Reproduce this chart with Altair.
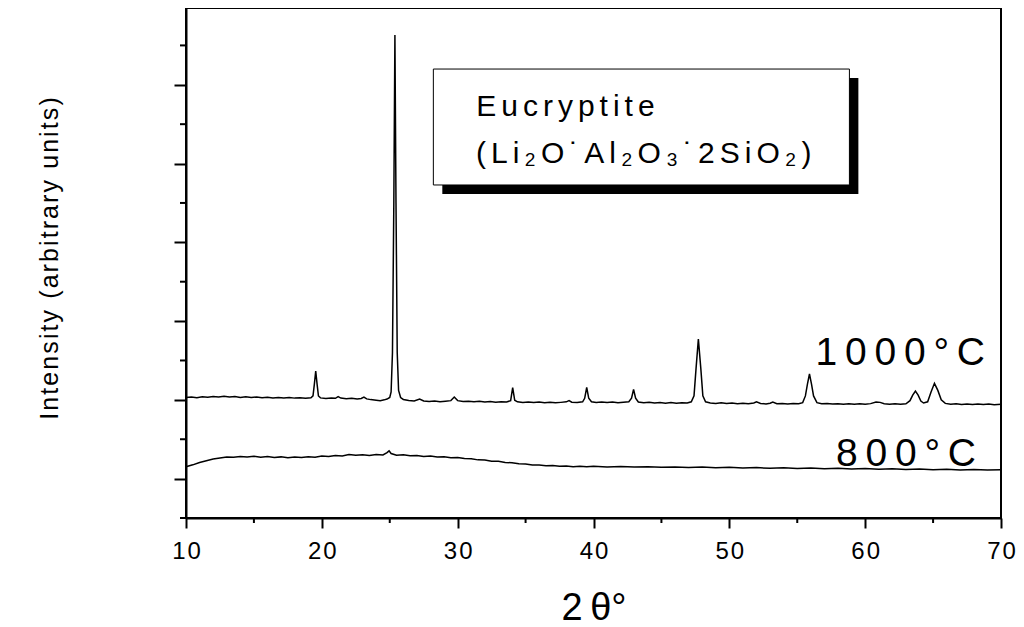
import altair as alt
import pandas as pd

# ---------------- data ----------------
x1000 = [10.0, 10.4, 10.8, 11.2, 11.6, 12.0, 12.4, 12.8, 13.2, 13.6, 14.0, 14.4, 14.8, 15.2, 15.6,
         16.0, 16.4, 16.8, 17.2, 17.6, 18.0, 18.4, 18.8, 19.2, 19.35, 19.45, 19.55, 19.65, 19.75,
         19.9, 20.3, 20.7, 21.0, 21.2, 21.4, 21.8, 22.2, 22.6, 22.9, 23.1, 23.3, 23.6, 24.0, 24.3,
         24.6, 24.8, 25.0, 25.1, 25.2, 25.3, 25.38, 25.46, 25.55, 25.65, 25.8, 26.0, 26.4, 26.8,
         27.2, 27.5, 27.9, 28.3, 28.7, 29.1, 29.5, 29.75, 30.0, 30.4, 30.8, 31.2, 31.6, 32.0, 32.4,
         32.8, 33.2, 33.6, 33.9, 34.05, 34.2, 34.4, 34.8, 35.2, 35.6, 36.0, 36.4, 36.8, 37.2, 37.6,
         38.0, 38.2, 38.4, 38.8, 39.2, 39.35, 39.5, 39.65, 39.85, 40.2, 40.6, 41.0, 41.4, 41.8,
         42.2, 42.6, 42.8, 42.95, 43.1, 43.3, 43.7, 44.1, 44.5, 44.9, 45.3, 45.7, 46.1, 46.5, 46.9,
         47.2, 47.4, 47.55, 47.72, 47.9, 48.05, 48.25, 48.6, 49.0, 49.4, 49.8, 50.2, 50.6, 51.0,
         51.4, 51.8, 52.0, 52.3, 52.7, 53.0, 53.2, 53.5, 53.9, 54.3, 54.7, 55.1, 55.4, 55.6, 55.75,
         55.9, 56.05, 56.2, 56.45, 56.8, 57.2, 57.6, 58.0, 58.4, 58.8, 59.2, 59.6, 60.0, 60.4, 60.8,
         61.1, 61.4, 61.8, 62.2, 62.6, 63.0, 63.3, 63.5, 63.7, 63.9, 64.1, 64.3, 64.6, 64.85, 65.1,
         65.35, 65.6, 65.9, 66.3, 66.7, 67.1, 67.5, 67.9, 68.3, 68.7, 69.1, 69.5, 70.0]
y1000 = [1.030, 1.036, 1.028, 1.040, 1.033, 1.042, 1.035, 1.045, 1.036, 1.041, 1.031, 1.038, 1.030,
         1.036, 1.027, 1.033, 1.025, 1.031, 1.024, 1.030, 1.022, 1.028, 1.021, 1.026, 1.050, 1.200,
         1.366, 1.200, 1.050, 1.025, 1.018, 1.024, 1.020, 1.042, 1.022, 1.015, 1.021, 1.012, 1.018,
         1.035, 1.012, 1.003, 0.995, 0.990, 1.000, 1.010, 1.030, 1.100, 1.600, 3.500, 5.632, 3.500,
         1.600, 1.120, 1.030, 1.005, 0.992, 0.985, 1.010, 0.985, 0.978, 0.985, 0.975, 0.982, 0.990,
         1.035, 0.990, 0.978, 0.983, 0.975, 0.981, 0.972, 0.978, 0.970, 0.976, 0.972, 0.990, 1.154,
         0.995, 0.975, 0.968, 0.974, 0.966, 0.972, 0.963, 0.970, 0.962, 0.968, 0.975, 0.990, 0.970,
         0.965, 0.975, 1.020, 1.157, 1.020, 0.975, 0.968, 0.974, 0.966, 0.972, 0.963, 0.970, 0.975,
         1.020, 1.134, 1.020, 0.972, 0.962, 0.968, 0.960, 0.966, 0.958, 0.965, 0.957, 0.963, 0.960,
         0.975, 1.050, 1.400, 1.773, 1.400, 1.050, 0.975, 0.960, 0.955, 0.962, 0.954, 0.960, 0.952,
         0.958, 0.950, 0.960, 0.975, 0.955, 0.948, 0.958, 0.972, 0.950, 0.955, 0.948, 0.954, 0.950,
         0.965, 1.050, 1.200, 1.328, 1.200, 1.050, 0.965, 0.950, 0.955, 0.946, 0.952, 0.945, 0.951,
         0.944, 0.950, 0.945, 0.952, 0.972, 0.968, 0.950, 0.943, 0.949, 0.944, 0.950, 0.990, 1.060,
         1.112, 1.060, 0.985, 0.960, 0.975, 1.100, 1.210, 1.120, 1.000, 0.955, 0.944, 0.950, 0.942,
         0.948, 0.941, 0.947, 0.940, 0.946, 0.939, 0.944]

x800 = [10.0, 10.5, 11.0, 11.5, 12.0, 12.5, 13.0, 13.5, 14.0, 14.5, 15.0, 15.5, 16.0, 16.5, 17.0,
        17.5, 18.0, 18.5, 19.0, 19.5, 20.0, 20.5, 21.0, 21.5, 22.0, 22.5, 23.0, 23.5, 24.0, 24.5,
        24.8, 24.95, 25.1, 25.5, 26.0, 26.5, 27.0, 27.5, 28.0, 28.5, 29.0, 29.5, 30.0, 30.5, 31.0,
        31.5, 32.0, 32.5, 33.0, 33.5, 34.0, 34.5, 35.0, 35.5, 36.0, 36.5, 37.0, 37.5, 38.0, 38.5,
        39.0, 39.5, 40.0, 41.0, 42.0, 43.0, 44.0, 45.0, 46.0, 47.0, 48.0, 49.0, 50.0, 51.0, 52.0,
        53.0, 54.0, 55.0, 56.0, 57.0, 58.0, 59.0, 60.0, 61.0, 62.0, 63.0, 64.0, 65.0, 66.0, 67.0,
        68.0, 69.0, 70.0]
y800 = [0.150, 0.175, 0.205, 0.228, 0.250, 0.262, 0.275, 0.270, 0.282, 0.276, 0.284, 0.272, 0.280,
        0.268, 0.276, 0.265, 0.274, 0.268, 0.279, 0.272, 0.286, 0.280, 0.294, 0.288, 0.305, 0.296,
        0.303, 0.295, 0.306, 0.300, 0.330, 0.352, 0.318, 0.296, 0.302, 0.290, 0.294, 0.282, 0.288,
        0.276, 0.279, 0.266, 0.268, 0.254, 0.252, 0.238, 0.236, 0.222, 0.220, 0.205, 0.202, 0.188,
        0.186, 0.172, 0.174, 0.162, 0.166, 0.156, 0.160, 0.152, 0.158, 0.150, 0.157, 0.149, 0.155,
        0.146, 0.152, 0.143, 0.149, 0.140, 0.146, 0.137, 0.143, 0.134, 0.140, 0.131, 0.137, 0.128,
        0.134, 0.125, 0.131, 0.122, 0.128, 0.119, 0.125, 0.116, 0.122, 0.113, 0.119, 0.110, 0.116,
        0.108, 0.113]

x_ticks = [10, 20, 30, 40, 50, 60, 70]
x_minor = [15, 25, 35, 45, 55, 65]
y_ticks = [0, 1, 2, 3, 4, 5]
y_minor = [-0.5, 0.5, 1.5, 2.5, 3.5, 4.5, 5.5]

series_labels = ["1000°C", "800°C"]
label_x = [68.82, 68.16]
label_y = [1.442, 0.160]

box_lines = ["Eucryptite", "(Li₂O˙Al₂O₃˙2SiO₂)"]
box_text_x = [31.37, 31.35]
box_text_y = [4.608, 4.007]
box_x = [28.21, 58.84]
box_y = [3.728, 5.20]
shadow_x = [28.87, 59.50]
shadow_y = [3.614, 5.086]

# ---------------- styling helpers ----------------
HS = "\u200a"   # hair space (letter spacing)
TS = "\u2009"   # thin space (letter spacing)
SS = "\u2006"   # six-per-em space (letter spacing)
FONT = "Liberation Sans"
W, H = 815, 510

def spaced(s, sep):
    return sep.join(list(s))

xs = alt.Scale(domain=[10, 70], nice=False, zero=False)
ys = alt.Scale(domain=[-0.5, 5.975], nice=False, zero=False)

df = pd.concat([
    pd.DataFrame({"x": x1000, "y": y1000, "s": "1000"}),
    pd.DataFrame({"x": x800, "y": y800, "s": "800"}),
])

x_axis = alt.Axis(values=x_ticks, tickSize=10, tickWidth=2, tickColor="black",
                  domainWidth=2, domainColor="black", grid=False,
                  labelFont=FONT, labelFontSize=24, labelColor="black",
                  labelBaseline="alphabetic", labelPadding=30, labelFlush=False,
                  labelOverlap=False,
                  labelExpr="join(split(datum.label, ''), '" + HS + "')",
                  title="2" + TS + "θ°", titleFont=FONT, titleFontSize=38,
                  titleFontWeight="normal", titleColor="black",
                  titleBaseline="alphabetic", titleY=101)
y_axis = alt.Axis(values=y_ticks, tickSize=12, tickWidth=2, tickColor="black",
                  domainWidth=2, domainColor="black", grid=False, labels=False,
                  title=spaced("Intensity (arbitrary units)", HS), titleFont=FONT,
                  titleFontSize=25, titleFontWeight="normal", titleColor="black",
                  titleAngle=270, titleAlign="center", titleBaseline="alphabetic",
                  titleX=-129, titleY=250)

def X(field):
    return alt.X(field, scale=xs, axis=x_axis)

def Y(field):
    return alt.Y(field, scale=ys, axis=y_axis)

lines = alt.Chart(df).mark_line(color="black", strokeWidth=1.5).encode(
    x=X("x:Q"), y=Y("y:Q"), detail="s:N",
)

xminor = alt.Chart(pd.DataFrame({"x": x_minor})).mark_rule(color="black", strokeWidth=2).encode(
    x=X("x:Q"), y=alt.value(H), y2=alt.value(H + 5),
)
yminor = alt.Chart(pd.DataFrame({"y": y_minor})).mark_rule(color="black", strokeWidth=2).encode(
    y=Y("y:Q"), x=alt.value(0), x2=alt.value(-6),
)

shadow = alt.Chart(pd.DataFrame({"x": [shadow_x[0]], "x1": [shadow_x[1]],
                                 "y": [shadow_y[0]], "y1": [shadow_y[1]]})).mark_rect(
    fill="black").encode(x=X("x:Q"), x2="x1:Q", y=Y("y:Q"), y2="y1:Q")
box = alt.Chart(pd.DataFrame({"x": [box_x[0]], "x1": [box_x[1]],
                              "y": [box_y[0]], "y1": [box_y[1]]})).mark_rect(
    fill="white", stroke="black", strokeWidth=1).encode(
    x=X("x:Q"), x2="x1:Q", y=Y("y:Q"), y2="y1:Q")

box_df = pd.DataFrame({"t": [spaced(t, SS) for t in box_lines], "x": box_text_x, "y": box_text_y})
box_text = alt.Chart(box_df).mark_text(font=FONT, fontSize=30, align="left",
                                       baseline="alphabetic", color="black").encode(
    x=X("x:Q"), y=Y("y:Q"), text="t:N")

lab_df = pd.DataFrame({"t": [spaced(t, TS) for t in series_labels], "x": label_x, "y": label_y})
labels = alt.Chart(lab_df).mark_text(font=FONT, fontSize=39, align="right",
                                     baseline="alphabetic", color="black").encode(
    x=X("x:Q"), y=Y("y:Q"), text="t:N")

chart = alt.layer(lines, xminor, yminor, shadow, box, box_text, labels).properties(
    width=W, height=H,
    autosize=alt.AutoSizeParams(type="none"),
    padding={"left": 178, "top": 0, "right": 15, "bottom": 109},
    background="white",
).configure_view(stroke="black", strokeWidth=2)

chart.save("out.html", embed_options={"renderer": "svg", "actions": False})
